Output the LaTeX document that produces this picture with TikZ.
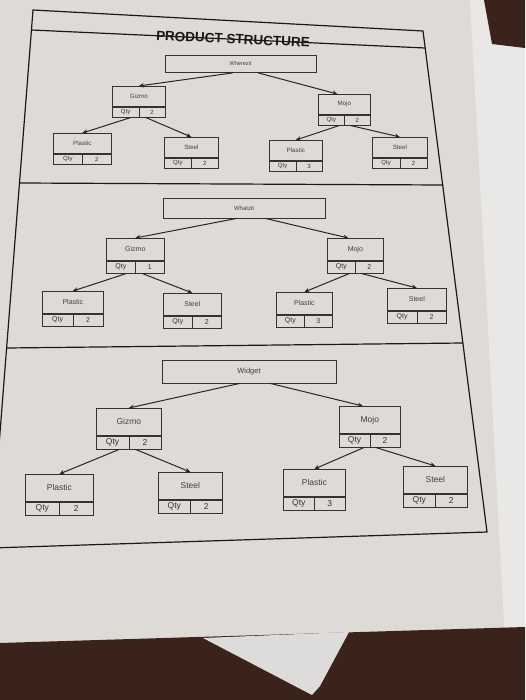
\documentclass[tikz,border=0pt]{standalone}
\usepackage{fontspec}
\setmainfont{Liberation Sans}
\usetikzlibrary{arrows.meta,positioning}
\definecolor{paper}{HTML}{DEDBD7}
\definecolor{sheet}{HTML}{E9E8E6}
\definecolor{desk}{HTML}{3A231A}
% one part: name on top, then a Qty | number row
\newcommand{\partbox}[5]{%
  \node[pname,minimum width=#3,anchor=north west] (#1) at (#2) {#4};
  \node[pcell,minimum width=#3/2,anchor=north west] (#1q) at (#1.south west) {Qty};
  \node[pcell,minimum width=#3/2,anchor=north east] (#1n) at (#1.south east) {#5};}

\begin{document}
\begin{tikzpicture}[x=1pt, y=-1pt]
\tikzset{
  pname/.style={rectangle,draw=black!80,line width=0.7pt,inner sep=0pt,text=black!75},
  pcell/.style={rectangle,draw=black!80,line width=0.7pt,inner sep=0pt,text=black!80},
  root/.style={rectangle,draw=black!80,line width=0.7pt,inner sep=0pt,text=black!75},
  ar/.style={-{Stealth[length=5pt,width=4.5pt]},line width=1pt,draw=black!85},
  frame/.style={line width=1.2pt,draw=black!90}
}
\useasboundingbox (0,0) rectangle (525,700);
% ---- the photo round the sheet
\fill[paper] (0,0) rectangle (525,700);
\fill[sheet] (470,0) -- (525,0) -- (525,640) -- (505,640) -- cycle;
\fill[desk] (484,0) -- (525,0) -- (525,48) -- (492,44) -- cycle;
\fill[desk] (0,643) -- (525,627) -- (525,700) -- (0,700) -- cycle;
\fill[sheet!95!black] (203,638) -- (312,695) -- (320,686) -- (349,632) -- cycle;
% ---- frame
\coordinate (tl) at (33,10);  \coordinate (tr) at (423,31);
\coordinate (br) at (487,532); \coordinate (bl) at (-9,548);
\draw[frame] (tl) -- (tr) -- (br) -- (bl) -- cycle;
\draw[frame] (31.5,30) -- (425,48);
\draw[frame] (19.5,183) -- (443,185);
\draw[frame] (6.7,348) -- (463,343);
\node[font=\fontsize{13.5}{15}\selectfont\bfseries,rotate=-2.6,text=black!90] (title) at (233,39) {PRODUCT STRUCTURE};
% ---- Wherezit
\begin{scope}[pname/.append style={minimum height=20,font=\fontsize{6.2}{7}\selectfont},
              pcell/.append style={minimum height=10,font=\fontsize{6}{7}\selectfont}]
\node[root,minimum width=151,minimum height=17,font=\fontsize{5.5}{6}\selectfont] (r1) at (240.5,64) {Wherezit};
\partbox{gz1}{112,86}{53}{Gizmo}{2}
\partbox{mj1}{318,94}{52}{Mojo}{2}
\partbox{gzpl1}{53,133}{58}{Plastic}{2}
\partbox{gzst1}{164,137}{54}{Steel}{2}
\partbox{mjpl1}{269,140}{53}{Plastic}{3}
\partbox{mjst1}{372,137}{55}{Steel}{2}
\draw[ar] ([xshift=-7.5]r1.south) -- (gz1.north);
\draw[ar] ([xshift=17.5]r1.south) -- ([xshift=-7]mj1.north);
\draw[ar] ([xshift=-8]gz1q.south east) -- (gzpl1.north);
\draw[ar] ([xshift=7]gz1n.south west) -- (gzst1.north);
\draw[ar] ([xshift=-5]mj1q.south east) -- (mjpl1.north);
\draw[ar] ([xshift=6]mj1n.south west) -- (mjst1.north);
\end{scope}
% ---- Whatzit
\begin{scope}[pname/.append style={minimum height=22,font=\fontsize{7}{8}\selectfont},
              pcell/.append style={minimum height=12,font=\fontsize{7}{8}\selectfont}]
\node[root,minimum width=162,minimum height=20,font=\fontsize{6}{7}\selectfont] (r2) at (244,208) {Whatzit};
\partbox{gz2}{106,238}{58}{Gizmo}{1}
\partbox{mj2}{327,238}{56}{Mojo}{2}
\partbox{gzpl2}{42,291}{61}{Plastic}{2}
\partbox{gzst2}{163,293}{58}{Steel}{2}
\partbox{mjpl2}{276,292}{56}{Plastic}{3}
\partbox{mjst2}{387,288}{59}{Steel}{2}
\draw[ar] ([xshift=-7]r2.south) -- (gz2.north);
\draw[ar] ([xshift=21]r2.south) -- ([xshift=-7]mj2.north);
\draw[ar] ([xshift=-9]gz2q.south east) -- (gzpl2.north);
\draw[ar] ([xshift=7]gz2n.south west) -- (gzst2.north);
\draw[ar] ([xshift=-6]mj2q.south east) -- (mjpl2.north);
\draw[ar] ([xshift=6]mj2n.south west) -- (mjst2.north);
\end{scope}
% ---- Widget
\begin{scope}[pname/.append style={minimum height=27,font=\fontsize{8.5}{10}\selectfont},
              pcell/.append style={minimum height=13,font=\fontsize{8.5}{10}\selectfont}]
\node[root,minimum width=174,minimum height=23,font=\fontsize{7.5}{9}\selectfont] (r3) at (249,371.5) {Widget};
\partbox{gz3}{96,408}{65}{Gizmo}{2}
\partbox{mj3}{339,406}{61}{Mojo}{2}
\partbox{gzpl3}{25,474}{68}{Plastic}{2}
\partbox{gzst3}{158,472}{64}{Steel}{2}
\partbox{mjpl3}{283,469}{62}{Plastic}{3}
\partbox{mjst3}{403,466}{64}{Steel}{2}
\draw[ar] ([xshift=-9]r3.south) -- (gz3.north);
\draw[ar] ([xshift=21]r3.south) -- ([xshift=-7]mj3.north);
\draw[ar] ([xshift=-10]gz3q.south east) -- (gzpl3.north);
\draw[ar] ([xshift=7]gz3n.south west) -- (gzst3.north);
\draw[ar] ([xshift=-6]mj3q.south east) -- (mjpl3.north);
\draw[ar] ([xshift=6]mj3n.south west) -- (mjst3.north);
\end{scope}
\end{tikzpicture}
\end{document}
